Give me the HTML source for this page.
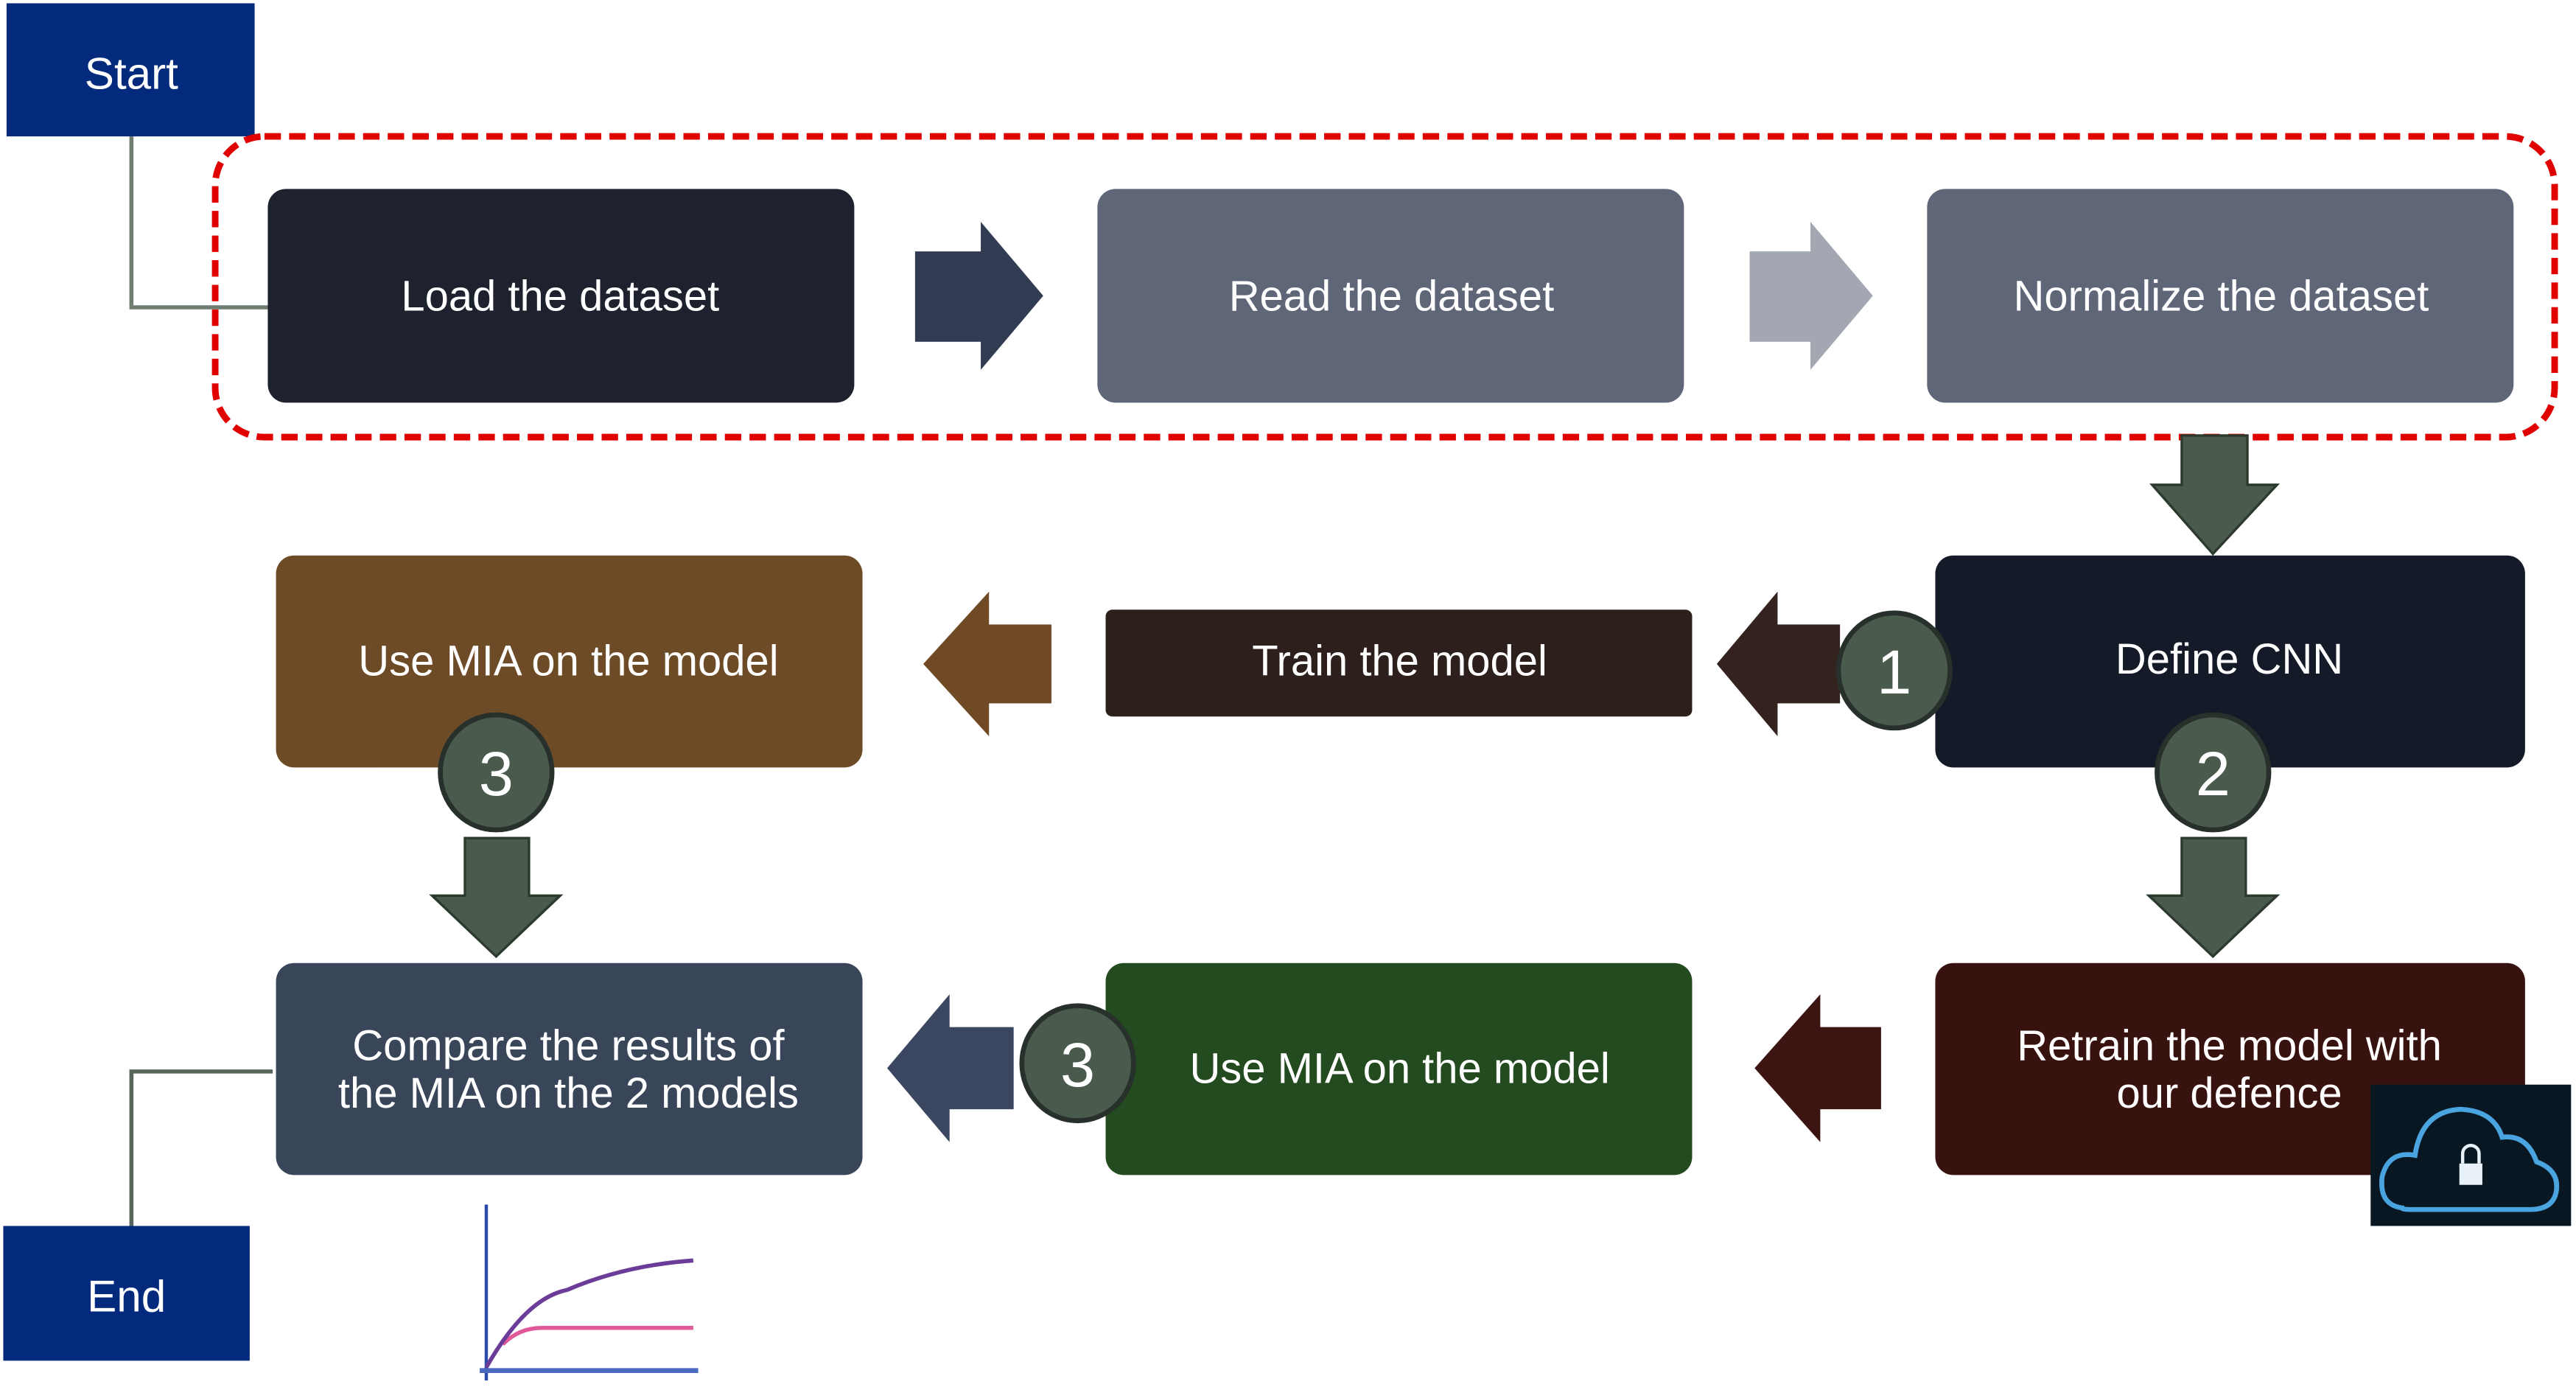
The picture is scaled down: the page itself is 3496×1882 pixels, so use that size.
<!DOCTYPE html>
<html><head><meta charset="utf-8"><style>html,body{margin:0;padding:0;background:#fff}svg{display:block}</style></head>
<body>
<svg width="3496" height="1882" viewBox="0 0 1568 844" preserveAspectRatio="none" xmlns="http://www.w3.org/2000/svg" font-family="Liberation Sans, sans-serif">
<rect width="1568" height="844" fill="#fff"/>
<polyline points="80,83 80,187 164,187" fill="none" stroke="#6f7d70" stroke-width="2.5"/>
<polyline points="166,652 80,652 80,746" fill="none" stroke="#56665a" stroke-width="2.5"/>
<rect x="4" y="2" width="151" height="81" fill="#032a7c"/>
<text x="80" y="54" fill="#fff" font-size="27" text-anchor="middle">Start</text>
<rect x="2" y="746" width="150" height="82" fill="#032a7c"/>
<text x="77" y="798" fill="#fff" font-size="27" text-anchor="middle">End</text>
<rect x="131" y="83" width="1424" height="183" rx="30" fill="none" stroke="#e00000" stroke-width="4" stroke-dasharray="10,5"/>
<rect x="163" y="115" width="357" height="130" rx="11" fill="#1e222e"/>
<text x="341" y="189" fill="#fff" font-size="26" text-anchor="middle">Load the dataset</text>
<polygon points="557,153 597,153 597,135 635,180 597,225 597,208 557,208" fill="#313c52"/>
<rect x="668" y="115" width="357" height="130" rx="11" fill="#5f6678"/>
<text x="847" y="189" fill="#fff" font-size="26" text-anchor="middle">Read the dataset</text>
<polygon points="1065,153 1102,153 1102,135 1140,180 1102,225 1102,208 1065,208" fill="#a3a7b1"/>
<rect x="1173" y="115" width="357" height="130" rx="11" fill="#5f6678"/>
<text x="1352" y="189" fill="#fff" font-size="26" text-anchor="middle">Normalize the dataset</text>
<polygon points="1328,265 1368,265 1368,295 1386,295 1347,337 1310,295 1328,295" fill="#4a5b4e" stroke="#2c3a2e" stroke-width="1.5"/>
<rect x="1178" y="338" width="359" height="129" rx="11" fill="#141a27"/>
<text x="1357" y="410" fill="#fff" font-size="26" text-anchor="middle">Define CNN</text>
<polygon points="1120,380 1082,380 1082,360 1045,404 1082,448 1082,428 1120,428" fill="#33221d"/>
<rect x="673" y="371" width="357" height="65" rx="4" fill="#2d1f1b"/>
<text x="852" y="411" fill="#fff" font-size="26" text-anchor="middle">Train the model</text>
<polygon points="640,380 602,380 602,360 562,404 602,448 602,428 640,428" fill="#6f4a25"/>
<rect x="168" y="338" width="357" height="129" rx="11" fill="#6e4b27"/>
<text x="346" y="411" fill="#fff" font-size="26" text-anchor="middle">Use MIA on the model</text>
<polygon points="283,510 322,510 322,545 341,545 302,582 263,545 283,545" fill="#4a5b4e" stroke="#2c3a2e" stroke-width="1.5"/>
<polygon points="1328,510 1367,510 1367,545 1386,545 1347,582 1308,545 1328,545" fill="#4a5b4e" stroke="#2c3a2e" stroke-width="1.5"/>
<rect x="1178" y="586" width="359" height="129" rx="11" fill="#38120f"/>
<text x="1357" y="645" fill="#fff" font-size="26" text-anchor="middle">Retrain the model with</text>
<text x="1357" y="674" fill="#fff" font-size="26" text-anchor="middle">our defence</text>
<polygon points="1145,625 1108,625 1108,605 1068,650 1108,695 1108,675 1145,675" fill="#3c1412"/>
<rect x="673" y="586" width="357" height="129" rx="11" fill="#244a1f"/>
<text x="852" y="659" fill="#fff" font-size="26" text-anchor="middle">Use MIA on the model</text>
<polygon points="617,625 578,625 578,605 540,650 578,695 578,675 617,675" fill="#3b4760"/>
<rect x="168" y="586" width="357" height="129" rx="11" fill="#394558"/>
<text x="346" y="645" fill="#fff" font-size="26" text-anchor="middle">Compare the results of</text>
<text x="346" y="674" fill="#fff" font-size="26" text-anchor="middle">the MIA on the 2 models</text>
<rect x="1443" y="660" width="122" height="86" fill="#081722"/>
<path d="M1462,735 Q1448,733 1450,716 Q1454,700 1470,703 Q1474,676 1498,675 Q1518,676 1523,692 Q1538,690 1544,707 Q1558,712 1556,725 Q1554,736 1540,736 L1468,736 Q1462,736 1462,735 Z" fill="none" stroke="#4aa4e0" stroke-width="3"/>
<rect x="1497" y="708" width="14" height="13" fill="#e8f0f8"/>
<path d="M1499,708 v-6 a5,5 0 0 1 10,0 v6" fill="none" stroke="#e8f0f8" stroke-width="2"/>
<g fill="#4a5b4e" stroke="#27302a" stroke-width="3">
<ellipse cx="1153" cy="408" rx="34" ry="35"/>
<ellipse cx="1347" cy="470" rx="34" ry="35"/>
<ellipse cx="302" cy="470" rx="34" ry="35"/>
<ellipse cx="656" cy="647" rx="34" ry="35"/>
</g>
<g fill="#fff" font-size="38" text-anchor="middle">
<text x="1153" y="422">1</text>
<text x="1347" y="484">2</text>
<text x="302" y="484">3</text>
<text x="656" y="661">3</text>
</g>
<line x1="296" y1="733" x2="296" y2="840" stroke="#2a4aa8" stroke-width="2"/>
<line x1="292" y1="834" x2="425" y2="834" stroke="#4a6ac0" stroke-width="3"/>
<path d="M306,818 Q316,808 330,808 L422,808" fill="none" stroke="#e05a9a" stroke-width="2.5"/>
<path d="M296,832 Q320,790 345,785 Q380,770 422,767" fill="none" stroke="#6b3c98" stroke-width="2.5"/>
</svg>
</body></html>
